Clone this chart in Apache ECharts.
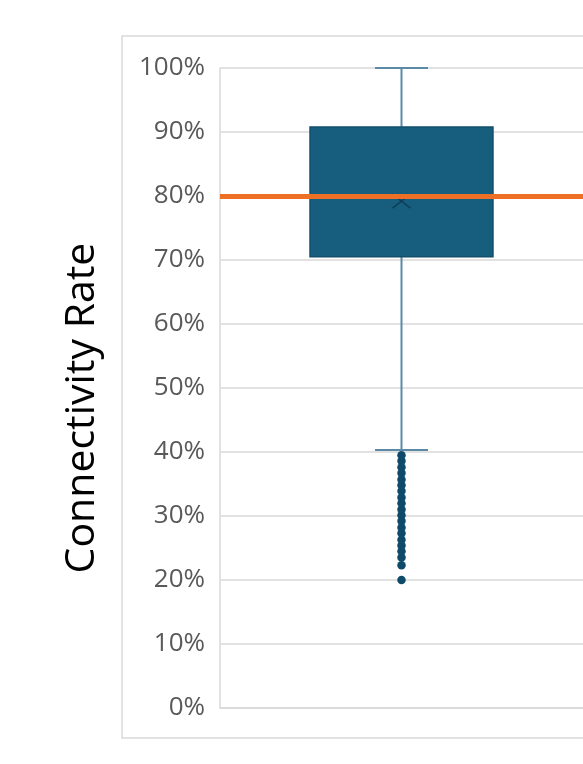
<!DOCTYPE html>
<html>
<head>
<meta charset="utf-8">
<script src="https://cdn.jsdelivr.net/npm/echarts@6/dist/echarts.min.js"></script>
<style>
  html, body { margin: 0; padding: 0; background: #ffffff; }
  #chart { width: 583px; height: 764px; }
</style>
</head>
<body>
<div id="chart"></div>
<script>
// Connectivity rate distribution: one box with whiskers, mean marker and low outliers
const categories = ['All'];
const whiskerLow = [40.3];
const quartile1 = [70.5];
const median = [80.0];
const quartile3 = [90.8];
const whiskerHigh = [100.0];
const mean = [79.2];
const outliers = [39.5, 38.6, 37.6, 36.7, 35.7, 34.8, 33.9, 32.9, 32.0, 31.0,
                  30.1, 29.2, 28.2, 27.3, 26.3, 25.4, 24.5, 23.5, 22.3, 20.0];
const targetRate = 80;
const yTicks = { min: 0, max: 100, interval: 10 };
const yTitle = 'Connectivity Rate';

const boxData = categories.map((c, i) =>
  [i, whiskerLow[i], quartile1[i], median[i], quartile3[i], whiskerHigh[i], mean[i]]);
const outlierData = outliers.map(v => [0, v]);

const BOX_FILL = '#175e7e';
const BOX_EDGE = '#114f6c';
const WHISKER = '#5b8aa6';

function renderBox(params, api) {
  const x = api.value(0);
  const band = api.size([1, 0])[0];
  const halfBox = band * 0.252;
  const halfCap = band * 0.073;
  const pLow = api.coord([x, api.value(1)]);
  const pQ1 = api.coord([x, api.value(2)]);
  const pMed = api.coord([x, api.value(3)]);
  const pQ3 = api.coord([x, api.value(4)]);
  const pHigh = api.coord([x, api.value(5)]);
  const pMean = api.coord([x, api.value(6)]);
  const cx = pLow[0];
  const mx = 9, my = 7;
  return {
    type: 'group',
    children: [
      { type: 'line', shape: { x1: cx, y1: pQ3[1], x2: cx, y2: pHigh[1] },
        style: { stroke: WHISKER, lineWidth: 2 } },
      { type: 'line', shape: { x1: cx, y1: pQ1[1], x2: cx, y2: pLow[1] },
        style: { stroke: WHISKER, lineWidth: 2 } },
      { type: 'line', shape: { x1: cx - halfCap, y1: pHigh[1], x2: cx + halfCap, y2: pHigh[1] },
        style: { stroke: WHISKER, lineWidth: 2 } },
      { type: 'line', shape: { x1: cx - halfCap, y1: pLow[1], x2: cx + halfCap, y2: pLow[1] },
        style: { stroke: WHISKER, lineWidth: 2 } },
      { type: 'rect', shape: { x: cx - halfBox, y: pQ3[1], width: halfBox * 2, height: pQ1[1] - pQ3[1] },
        style: { fill: BOX_FILL, stroke: BOX_EDGE, lineWidth: 1.5 } },
      { type: 'line', shape: { x1: cx - halfBox, y1: pMed[1], x2: cx + halfBox, y2: pMed[1] },
        style: { stroke: BOX_EDGE, lineWidth: 1.5 } },
      { type: 'line', shape: { x1: cx - mx, y1: pMean[1] - my, x2: cx + mx, y2: pMean[1] + my },
        style: { stroke: '#0d3f58', lineWidth: 1.5 } },
      { type: 'line', shape: { x1: cx - mx, y1: pMean[1] + my, x2: cx + mx, y2: pMean[1] - my },
        style: { stroke: '#0d3f58', lineWidth: 1.5 } }
    ]
  };
}

const chart = echarts.init(document.getElementById('chart'), null, { renderer: 'canvas' });
chart.setOption({
  animation: false,
  backgroundColor: '#ffffff',
  graphic: [
    {
      type: 'rect', z: -10,
      shape: { x: 122, y: 36, width: 520, height: 702 },
      style: { fill: 'none', stroke: '#d9d9d9', lineWidth: 1.5 }
    },
    {
      type: 'text', x: 82, y: 408, rotation: Math.PI / 2,
      style: {
        text: yTitle, fill: '#000000', fontSize: 41, fontFamily: 'Open Sans',
        align: 'center', verticalAlign: 'middle'
      }
    }
  ],
  grid: { left: 220, right: -3, top: 68, bottom: 56 },
  xAxis: {
    type: 'category',
    data: categories,
    boundaryGap: true,
    axisLine: { show: true, lineStyle: { color: '#d9d9d9', width: 1.5 } },
    axisTick: { show: false },
    axisLabel: { show: false },
    splitLine: { show: false }
  },
  yAxis: {
    type: 'value',
    min: yTicks.min, max: yTicks.max, interval: yTicks.interval,
    axisLine: { show: true, lineStyle: { color: '#d9d9d9', width: 1.5 } },
    axisTick: { show: false },
    axisLabel: {
      formatter: '{value}%', color: '#595959', fontSize: 26,
      fontFamily: 'Open Sans', margin: 15
    },
    splitLine: { show: true, lineStyle: { color: '#d9d9d9', width: 1.5 } }
  },
  series: [
    {
      type: 'custom', name: 'box', z: 2,
      renderItem: renderBox,
      encode: { x: 0, y: [1, 2, 3, 4, 5] },
      data: boxData
    },
    {
      type: 'scatter', name: 'outliers', z: 3,
      symbol: 'circle', symbolSize: 8.5,
      itemStyle: { color: '#0f4b69', opacity: 1 },
      data: outlierData,
      markLine: {
        silent: true, symbol: 'none', z: 10,
        label: { show: false },
        lineStyle: { color: '#ee7024', width: 5, type: 'solid', opacity: 1 },
        data: [{ yAxis: targetRate }]
      }
    }
  ]
});
</script>
</body>
</html>
